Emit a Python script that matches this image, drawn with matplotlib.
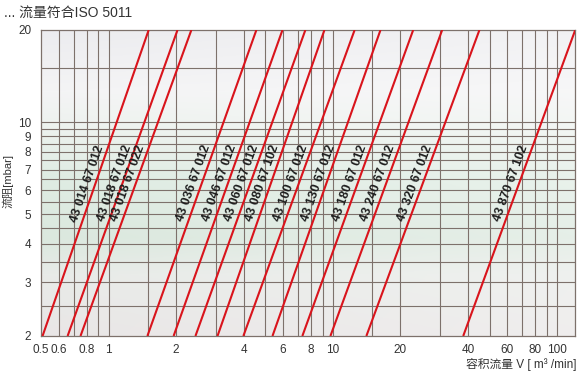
"""
Flow resistance chart for filter elements (ISO 5011), log-log.
"""

import numpy as np
import matplotlib.pyplot as plt
from matplotlib.colors import LinearSegmentedColormap

# part numbers of the filter elements
parts = ['43 014 67 012', '43 018 67 012', '43 018 67 022', '43 036 67 012',
         '43 046 67 012', '43 060 67 012', '43 080 67 102', '43 100 67 012',
         '43 130 67 012', '43 180 67 012', '43 240 67 012', '43 320 67 012',
         '43 870 67 102']

# volume flow [m3/min] read at 2 mbar and at 20 mbar
flow_at_2 = [0.508, 0.657, 0.750, 1.49, 1.95, 2.44, 3.06, 3.99,
             5.38, 7.31, 9.75, 14.1, 38.1]
flow_at_20 = [1.51, 2.03, 2.34, 4.56, 5.96, 7.54, 9.17, 12.5,
              16.3, 22.8, 30.7, 45.0, 120.3]
p_ends = [2, 20]
p_label = 6.3

x_ticks = [0.5, 0.6, 0.8, 1, 2, 4, 6, 8, 10, 20, 40, 60, 80, 100]
x_ticklabels = ['0.5', '0.6', '0.8', '1', '2', '4', '6', '8', '10', '20', '40', '60', '80', '100']
y_ticks = [2, 3, 4, 5, 6, 7, 8, 9, 10, 20]
y_ticklabels = ['2', '3', '4', '5', '6', '7', '8', '9', '10', '20']

x_grid = [0.6, 0.7, 0.8, 0.9, 1, 1.5, 2, 3, 4, 5, 6, 7, 8, 9, 10, 15, 20,
          30, 40, 50, 60, 70, 80, 90, 100]
y_grid = [2.5, 3, 3.5, 4, 4.5, 5, 5.5, 6, 6.5, 7, 7.5, 8, 8.5, 9, 9.5, 10, 15]

plt.rcParams['font.family'] = ['Liberation Sans', 'Noto Sans CJK SC', 'DejaVu Sans']

fig = plt.figure(figsize=(5.84, 3.74), dpi=100)
ax = fig.add_axes([41 / 584, 38 / 374, 534 / 584, 306 / 374])
ax.set_xscale('log')
ax.set_yscale('log')

# background shading: grey at the bottom, green band, nearly white at the top
bg = LinearSegmentedColormap.from_list('bg', [
    (0.0, '#e9e6e6'), (0.2, '#e8ebe8'), (0.32, '#dbe8de'),
    (0.52, '#dfece3'), (0.68, '#edf2ee'), (0.8, '#f4f4f5'), (1.0, '#ececef')])
col = bg(np.linspace(0, 1, 256))[:, :3]
img = np.repeat(col[:, None, :], 256, axis=1)
# fade towards white on the right
fade = np.linspace(0, 0.3, 256).reshape(1, -1, 1)
img = img * (1 - fade) + fade
ax.imshow(img, extent=[0, 1, 0, 1], transform=ax.transAxes, origin='lower',
          aspect='auto', zorder=0)
ax.set_xlim(0.5, 120)
ax.set_ylim(2, 20)

grid_color = '#7d716b'
for gx in x_grid:
    ax.axvline(gx, color=grid_color, lw=0.8, zorder=1)
for gy in y_grid:
    ax.axhline(gy, color=grid_color, lw=0.8, zorder=1)

for sp in ax.spines.values():
    sp.set_color(grid_color)
    sp.set_linewidth(0.9)

fig.canvas.draw()
for name, v2, v20 in zip(parts, flow_at_2, flow_at_20):
    ax.plot([v2, v20], p_ends, color='#d9141c', lw=1.5, zorder=3,
            solid_capstyle='butt')
    # point on the line at the label height (straight line in log-log)
    k = np.log10(v20 / v2) / np.log10(p_ends[1] / p_ends[0])
    v_lab = v2 * (p_label / p_ends[0]) ** k
    p0 = ax.transData.transform((v2, p_ends[0]))
    p1 = ax.transData.transform((v20, p_ends[1]))
    angle = np.degrees(np.arctan2(p1[1] - p0[1], p1[0] - p0[0]))
    ax.annotate(name, xy=(v_lab, p_label), xytext=(-8, 0),
                textcoords='offset pixels', rotation=angle,
                rotation_mode='anchor', ha='center', va='center',
                fontsize=9, fontweight='bold', color='#1e1e1e', zorder=4)

ax.set_xticks(x_ticks)
ax.set_xticklabels(x_ticklabels)
ax.set_yticks(y_ticks)
ax.set_yticklabels(y_ticklabels)
ax.minorticks_off()
ax.tick_params(length=0, labelsize=8.5, labelcolor='#333333')
ax.tick_params(axis='x', pad=6)
ax.tick_params(axis='y', pad=7)

fig.text(4 / 584, 1 - 13 / 374, '... 流量符合ISO 5011', fontsize=10,
         color='#333333', ha='left', va='center')
fig.text(8 / 584, 1 - 181 / 374, '流阻[mbar]', fontsize=8, color='#333333',
         rotation=90, ha='center', va='center')
fig.text(577 / 584, 1 - 364 / 374, '容积流量 V [ m³ /min]', fontsize=8.5,
         color='#333333', ha='right', va='center')

fig.savefig('out.png', dpi=100)
